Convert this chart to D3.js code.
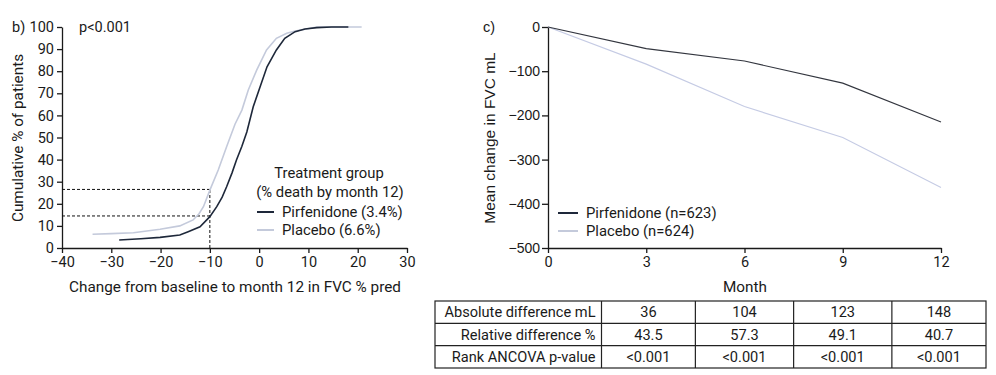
<!DOCTYPE html>
<html>
<head>
<meta charset="utf-8">
<script src="https://cdn.jsdelivr.net/npm/d3@7"></script>
<style>
  body { margin: 0; background: #fff; }
  svg { display: block; }
  text { font-family: Roboto, "Liberation Sans", sans-serif; fill: #1a1a1a; }
  .arial text, text.arial { font-family: "Liberation Sans", Arial, sans-serif; }
  .axis path, .axis line { stroke: #1a1a1a; stroke-width: 1.3; }
</style>
</head>
<body>
<svg id="chart" width="996" height="375"></svg>
<script>
// panel b: cumulative distribution as [change, cumulative %]
const pirfCdf = [
  [-28.4, 3.6], [-24, 4.2], [-20.1, 4.8], [-16.1, 5.9], [-14.4, 7.4], [-12, 9.6],
  [-10, 14.2], [-8.6, 18.7], [-7.5, 23], [-6.6, 27.7], [-5.5, 34], [-4.6, 39.8],
  [-3.5, 46], [-2.5, 52.5], [-1.2, 63.9], [0.2, 73], [1.6, 82], [3.5, 89.6],
  [5.2, 94.9], [7.3, 97.9], [9.3, 99.1], [11.7, 99.7], [14.7, 100], [18.1, 100]
];
const placCdf = [
  [-33.8, 6.2], [-30, 6.5], [-25.5, 6.9], [-20.1, 8.5], [-16.1, 10], [-13.4, 12.7],
  [-12.2, 15.5], [-11.3, 18.7], [-10, 26.2], [-8.3, 35.3], [-6.6, 45.8], [-4.9, 56],
  [-3.5, 62.4], [-2.2, 71.5], [-0.5, 80.5], [1.5, 89.6], [3.5, 94.9], [5.6, 97.2],
  [7.3, 98.2], [9.6, 99.1], [11.7, 100], [20.8, 100]
];
const cdfXTicks = [-40, -30, -20, -10, 0, 10, 20, 30];
const cdfYTicks = [0, 10, 20, 30, 40, 50, 60, 70, 80, 90, 100];
const cutoffX = -10;
const cutoffPirf = 14.5;
const cutoffPlac = 26.5;

// panel c: mean change in FVC
const months = [0, 3, 6, 9, 12];
const pirfMean = [0, -49, -77, -127, -215];
const placMean = [0, -84, -180, -250, -363];
const fvcYTicks = [0, -100, -200, -300, -400, -500];

// table under panel c
const rowLabels = ["Absolute difference mL", "Relative difference %", "Rank ANCOVA p-value"];
const absDiff = ["36", "104", "123", "148"];
const relDiff = ["43.5", "57.3", "49.1", "40.7"];
const pValues = ["<0.001", "<0.001", "<0.001", "<0.001"];

const darkCol = "#1e283a";
const lightCol = "#c4cadb";
const titleSize = 15.3;
const legendSize = 14.8;

const svg = d3.select("#chart");

// ---------- panel b ----------
const xb = d3.scaleLinear().domain([-40, 30]).range([62, 407]);
const yb = d3.scaleLinear().domain([0, 100]).range([248, 27]);

const gb = svg.append("g");

gb.append("g")
  .attr("class", "axis")
  .attr("transform", "translate(0,248)")
  .call(d3.axisBottom(xb).tickValues(cdfXTicks).tickSize(5).tickPadding(4).tickSizeOuter(0))
  .call((g) => g.selectAll("text").attr("font-size", 14.5).attr("fill", "#1a1a1a").attr("font-family", "Roboto"));

gb.append("g")
  .attr("class", "axis")
  .attr("transform", "translate(62,0)")
  .call(d3.axisLeft(yb).tickValues(cdfYTicks).tickSize(5).tickPadding(3).tickSizeOuter(0))
  .call((g) => g.selectAll("text").attr("font-size", 14.5).attr("fill", "#1a1a1a").attr("font-family", "Roboto"));

// dashed reference lines at -10
const dash = "3,2";
[cutoffPirf, cutoffPlac].forEach((v) => {
  gb.append("line")
    .attr("x1", xb(-40)).attr("x2", xb(cutoffX))
    .attr("y1", yb(v)).attr("y2", yb(v))
    .attr("stroke", "#111").attr("stroke-dasharray", dash).attr("stroke-width", 1);
});
gb.append("line")
  .attr("x1", xb(cutoffX)).attr("x2", xb(cutoffX))
  .attr("y1", yb(0)).attr("y2", yb(cutoffPlac))
  .attr("stroke", "#111").attr("stroke-dasharray", dash).attr("stroke-width", 1);

const cdfLine = d3.line().x((d) => xb(d[0])).y((d) => yb(d[1]));
gb.append("path").datum(placCdf)
  .attr("d", cdfLine).attr("fill", "none").attr("stroke", lightCol).attr("stroke-width", 1.6);
gb.append("path").datum(pirfCdf)
  .attr("d", cdfLine).attr("fill", "none").attr("stroke", darkCol).attr("stroke-width", 1.6);

gb.append("text").attr("x", 12).attr("y", 32).attr("font-size", 14.5).text("b)");
gb.append("text").attr("x", 79).attr("y", 32).attr("font-size", 14.5).text("p<0.001");

gb.append("text")
  .attr("transform", "translate(23,138) rotate(-90)")
  .attr("text-anchor", "middle").attr("font-size", titleSize)
  .text("Cumulative % of patients");
gb.append("text")
  .attr("x", 235).attr("y", 292)
  .attr("text-anchor", "middle").attr("font-size", titleSize)
  .text("Change from baseline to month 12 in FVC % pred");

gb.append("text").attr("x", 329).attr("y", 178).attr("text-anchor", "middle").attr("font-size", legendSize)
  .text("Treatment group");
gb.append("text").attr("x", 330).attr("y", 197).attr("text-anchor", "middle").attr("font-size", legendSize)
  .text("(% death by month 12)");
[["Pirfenidone (3.4%)", darkCol, 212], ["Placebo (6.6%)", lightCol, 230]].forEach(([label, col, y]) => {
  gb.append("line").attr("x1", 257).attr("x2", 274).attr("y1", y).attr("y2", y)
    .attr("stroke", col).attr("stroke-width", 2);
  gb.append("text").attr("x", 282).attr("y", y + 5).attr("font-size", legendSize).text(label);
});

// ---------- panel c ----------
const xc = d3.scaleLinear().domain([0, 12]).range([548, 941]);
const yc = d3.scaleLinear().domain([-500, 0]).range([248, 27]);

const gc = svg.append("g");

gc.append("g")
  .attr("class", "axis")
  .attr("transform", "translate(0,248)")
  .call(d3.axisBottom(xc).tickValues(months).tickSize(5).tickPadding(4).tickSizeOuter(0))
  .call((g) => g.selectAll("text").attr("font-size", 14.5).attr("fill", "#1a1a1a").attr("font-family", "Roboto"));

gc.append("g")
  .attr("class", "axis arial")
  .attr("transform", "translate(548,0)")
  .call(d3.axisLeft(yc).tickValues(fvcYTicks).tickSize(6).tickPadding(2).tickSizeOuter(0))
  .call((g) => g.selectAll("text").attr("font-size", 14).attr("fill", "#1a1a1a"));

const meanLine = (vals) => d3.line().x((d, i) => xc(months[i])).y((d) => yc(d))(vals);
gc.append("path").attr("d", meanLine(placMean))
  .attr("fill", "none").attr("stroke", "#c5cbe4").attr("stroke-width", 1.1);
gc.append("path").attr("d", meanLine(pirfMean))
  .attr("fill", "none").attr("stroke", "#33363f").attr("stroke-width", 1.1);

gc.append("text").attr("x", 483).attr("y", 32).attr("font-size", 14.5).attr("class", "arial").text("c)");
gc.append("text")
  .attr("class", "arial")
  .attr("transform", "translate(495,138) rotate(-90)")
  .attr("text-anchor", "middle").attr("font-size", 15.5)
  .text("Mean change in FVC mL");
gc.append("text").attr("x", 745).attr("y", 292).attr("text-anchor", "middle").attr("font-size", titleSize)
  .text("Month");

[["Pirfenidone (n=623)", darkCol, 213], ["Placebo (n=624)", lightCol, 231]].forEach(([label, col, y]) => {
  gc.append("line").attr("x1", 558).attr("x2", 578).attr("y1", y).attr("y2", y)
    .attr("stroke", col).attr("stroke-width", 2);
  gc.append("text").attr("x", 586).attr("y", y + 5).attr("font-size", legendSize).text(label);
});

// ---------- table ----------
const tableLeft = 435;
const tableRight = 986;
const labelRight = 601.5;
const rowTops = [301, 323.3, 345.7, 368];
const rows = [absDiff, relDiff, pValues];
const colBounds = [labelRight].concat(months.slice(1).map((m, i, arr) =>
  i < arr.length - 1 ? (xc(m) + xc(arr[i + 1])) / 2 : tableRight));

const gt = svg.append("g");
gt.append("rect")
  .attr("x", tableLeft).attr("y", rowTops[0])
  .attr("width", tableRight - tableLeft).attr("height", rowTops[3] - rowTops[0])
  .attr("fill", "none").attr("stroke", "#222").attr("stroke-width", 1.2);
rowTops.slice(1, 3).forEach((y) => {
  gt.append("line").attr("x1", tableLeft).attr("x2", tableRight).attr("y1", y).attr("y2", y)
    .attr("stroke", "#222").attr("stroke-width", 1.2);
});
colBounds.slice(0, -1).forEach((x) => {
  gt.append("line").attr("x1", x).attr("x2", x).attr("y1", rowTops[0]).attr("y2", rowTops[3])
    .attr("stroke", "#222").attr("stroke-width", 1.2);
});
rows.forEach((vals, r) => {
  const yMid = (rowTops[r] + rowTops[r + 1]) / 2;
  gt.append("text").attr("x", labelRight - 6).attr("y", yMid + 5)
    .attr("text-anchor", "end").attr("font-size", 14.6).text(rowLabels[r]);
  vals.forEach((v, c) => {
    gt.append("text")
      .attr("x", (colBounds[c] + colBounds[c + 1]) / 2).attr("y", yMid + 5)
      .attr("text-anchor", "middle").attr("font-size", 14.6).text(v);
  });
});
</script>
</body>
</html>
